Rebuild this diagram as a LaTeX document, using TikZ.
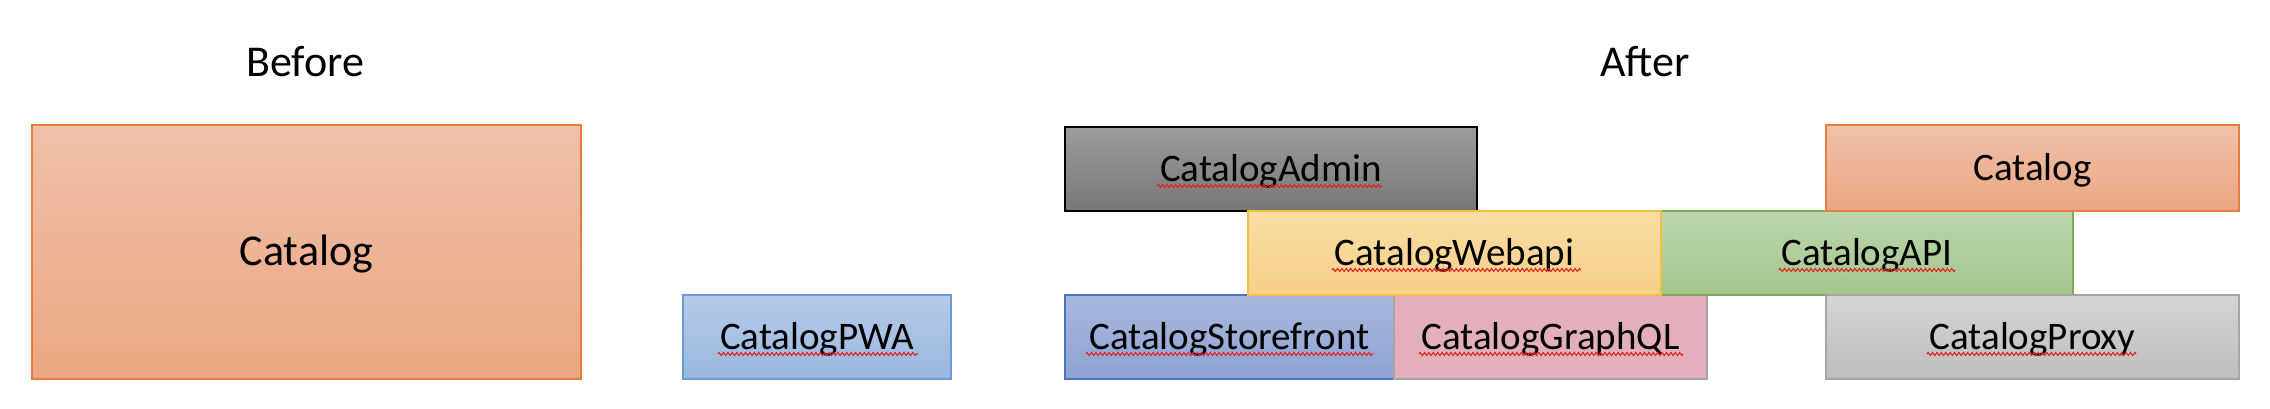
\documentclass[tikz,border=0pt]{standalone}
\usepackage{fontspec}
\setmainfont{Carlito}
\usetikzlibrary{decorations.pathmorphing}
\definecolor{squig}{HTML}{E02424}
\definecolor{orD}{HTML}{E47D3E}\definecolor{orT}{HTML}{EFC1A9}\definecolor{orB}{HTML}{EBA682}
\definecolor{pwD}{HTML}{6A9BD2}\definecolor{pwT}{HTML}{B6CAE8}\definecolor{pwB}{HTML}{9AB7E0}
\definecolor{adT}{HTML}{9C9C9C}\definecolor{adB}{HTML}{777777}
\definecolor{waD}{HTML}{F4BE41}\definecolor{waT}{HTML}{F9DDA3}\definecolor{waB}{HTML}{F7D089}
\definecolor{apD}{HTML}{79AC57}\definecolor{apT}{HTML}{BCD5AD}\definecolor{apB}{HTML}{A5C68C}
\definecolor{stD}{HTML}{4A74C2}\definecolor{stT}{HTML}{AAB8DE}\definecolor{stB}{HTML}{8DA2D2}
\definecolor{grD}{HTML}{A5A5A5}\definecolor{gqF}{HTML}{E3AFBB}
\definecolor{prT}{HTML}{D4D4D4}\definecolor{prB}{HTML}{BEBEBE}
\tikzset{
  box/.style={rectangle, inner sep=0pt, line width=2pt,
    font=\fontsize{39}{41}\selectfont, text height=24.6pt, text depth=0pt},
  bigtext/.style={font=\fontsize{44}{46}\selectfont, text height=27.8pt, text depth=0pt},
  heading/.style={inner sep=0pt, bigtext},
  squigline/.style={draw=squig, line width=1.1pt, decorate,
    decoration={zigzag, segment length=4.4pt, amplitude=1.5pt}},
  orangebox/.style={box, draw=orD, top color=orT, bottom color=orB},
  pwabox/.style={box, draw=pwD, top color=pwT, bottom color=pwB},
  adminbox/.style={box, draw=black, line width=2.5pt, top color=adT, bottom color=adB},
  webapibox/.style={box, draw=waD, top color=waT, bottom color=waB},
  apibox/.style={box, draw=apD, top color=apT, bottom color=apB},
  storebox/.style={box, draw=stD, top color=stT, bottom color=stB},
  gqlbox/.style={box, draw=grD, fill=gqF},
  proxybox/.style={box, draw=grD, top color=prT, bottom color=prB}
}
\begin{document}
\begin{tikzpicture}[x=1pt,y=-1pt]
\useasboundingbox[fill=white] (0,0) rectangle (2270,408);
% headings
\node[heading] (before) at (305,63) {Before};
\node[heading] (after) at (1645,63) {After};
% before
\node[orangebox, bigtext, minimum width=549pt, minimum height=254pt] (catB) at (306.5,252) {Catalog};
\node[pwabox, minimum width=268pt, minimum height=84pt] (pwa) at (817,337) {CatalogPWA};
% after
\node[storebox, minimum width=329pt, minimum height=84pt] (store) at (1229.5,337) {CatalogStorefront};
\node[gqlbox, minimum width=313pt, minimum height=84pt] (gql) at (1550.5,337) {CatalogGraphQL};
\node[adminbox, minimum width=412pt, minimum height=84pt] (admin) at (1271,169) {CatalogAdmin};
\node[apibox, minimum width=412pt, minimum height=84pt] (api) at (1867,253) {CatalogAPI};
\node[webapibox, minimum width=413pt, minimum height=84pt] (webapi) at (1454.5,253) {CatalogWebapi};
\node[orangebox, minimum width=413pt, minimum height=86pt] (catA) at (2032.5,168) {Catalog};
\node[proxybox, minimum width=413pt, minimum height=84pt] (proxy) at (2032.5,337) {CatalogProxy};
% spell-check marks (end points at the text's ends)
\coordinate (pwaL) at (718,354);   \coordinate (pwaR) at (918,354);
\coordinate (storeL) at (1086,354); \coordinate (storeR) at (1373,354);
\coordinate (gqlL) at (1419,354);  \coordinate (gqlR) at (1683,354);
\coordinate (adminL) at (1157,186); \coordinate (adminR) at (1382,186);
\coordinate (apiL) at (1779,270);  \coordinate (apiR) at (1955,270);
\coordinate (webapiL) at (1332,270); \coordinate (webapiR) at (1581,270);
\coordinate (proxyL) at (1927,354); \coordinate (proxyR) at (2136,354);
\foreach \n in {pwa,store,gql,admin,api,webapi,proxy}
  \draw[squigline] (\n L) -- (\n R);
\end{tikzpicture}
\end{document}
